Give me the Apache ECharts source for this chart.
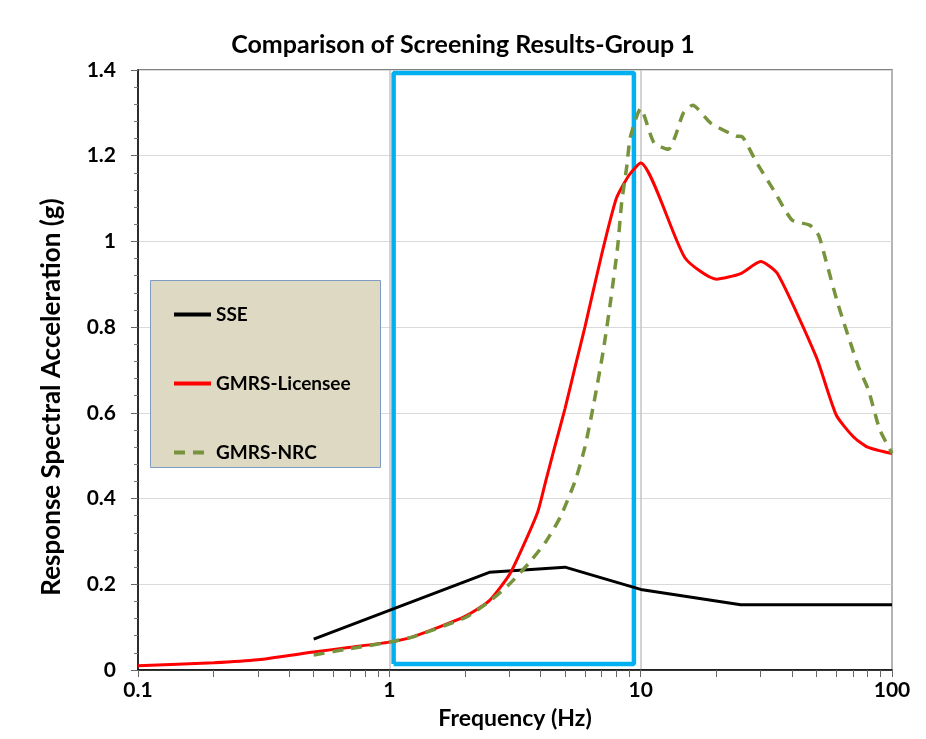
<!DOCTYPE html>
<html>
<head>
<meta charset="utf-8">
<script src="https://cdn.jsdelivr.net/npm/echarts@6/dist/echarts.min.js"></script>
<style>html,body{margin:0;padding:0;background:#fff;}#c{width:926px;height:739px;}</style>
</head>
<body>
<div id="c"></div>
<script>
// ---- data ----
var sseData = [[0.5,0.072],[2.5,0.228],[5,0.24],[10,0.188],[25,0.152],[100,0.152]];
var licenseeData = [[0.1,0.01],[0.2,0.017],[0.3,0.024],[0.5,0.042],[0.7,0.053],[1,0.065],[1.25,0.078],[2,0.125],[2.5,0.162],[3,0.222],[3.4,0.288],[3.9,0.37],[4.2,0.443],[4.5,0.51],[5,0.61],[5.5,0.71],[6,0.8],[7,0.97],[8,1.1],[9,1.155],[10,1.183],[15,0.962],[20,0.912],[25,0.925],[30,0.953],[35,0.925],[50,0.73],[60,0.595],[70,0.545],[80,0.52],[100,0.505]];
var nrcData = [[0.5,0.035],[0.7,0.05],[1,0.065],[1.25,0.078],[2,0.122],[2.5,0.16],[3,0.2],[3.6,0.25],[4.2,0.3],[4.8,0.358],[5.5,0.443],[6,0.52],[6.5,0.62],[7.1,0.745],[7.6,0.863],[8.1,0.988],[8.4,1.09],[8.8,1.174],[9.1,1.244],[10,1.31],[11.3,1.23],[12.9,1.215],[13.7,1.244],[14.8,1.3],[16.1,1.318],[19,1.276],[23.9,1.246],[25.4,1.244],[28.8,1.186],[33.8,1.12],[40,1.05],[47,1.038],[51,1.015],[54.5,0.957],[60.8,0.856],[73.5,0.708],[80.6,0.653],[89.5,0.56],[100,0.506]];
var boxData = [[1.04,0.014],[9.4,0.014],[9.4,1.393],[1.04,1.393],[1.04,0.014]];
var seriesNames = ['SSE','GMRS-Licensee','GMRS-NRC'];
var xMinorTickValues = [0.2,0.3,0.4,0.5,0.6,0.7,0.8,0.9,2,3,4,5,6,7,8,9,20,30,40,50,60,70,80,90];
var titleText = 'Comparison of Screening Results-Group 1';
var xName = 'Frequency (Hz)';
var yName = 'Response Spectral Acceleration (g)';

var FONT = 'Lato, "Open Sans", sans-serif';
var chart = echarts.init(document.getElementById('c'), null, {renderer:'canvas'});
chart.setOption({
  animation:false,
  backgroundColor:'#fff',
  title:{text:titleText,left:'center',top:27,textStyle:{fontFamily:FONT,fontSize:25,fontWeight:'bold',color:'#000'}},
  grid:{left:138,right:34,top:70,bottom:69,show:true,borderColor:'#595959',borderWidth:1.5,backgroundColor:'transparent'},
  graphic:[{type:'rect',left:150,top:280,shape:{width:230,height:187},style:{fill:'#DDD9C3',stroke:'#7F9CC5',lineWidth:1},z:50}],
  legend:{data:seriesNames,orient:'vertical',left:167,top:300,itemWidth:37,itemHeight:14,itemGap:50,z:60,
    itemStyle:{opacity:0},lineStyle:{width:4},
    textStyle:{fontFamily:FONT,fontSize:19,fontWeight:'bold',color:'#000'},selectedMode:false},
  xAxis:[{type:'log',logBase:10,min:0.1,max:100,
    name:xName,nameLocation:'middle',nameGap:37,
    nameTextStyle:{fontFamily:FONT,fontSize:23,fontWeight:'bold',color:'#000'},
    axisLine:{show:true,lineStyle:{color:'#000',width:1.5}},
    axisTick:{show:true,inside:false,length:7,lineStyle:{color:'#666',width:1}},
    axisLabel:{fontFamily:FONT,fontSize:21,fontWeight:'bold',color:'#000',margin:10,formatter:function(v){return String(v);}},
    splitLine:{show:true,lineStyle:{color:'#C4C4C4',width:1.5}}
  },{type:'log',logBase:10,min:0.1,max:100,position:'bottom',offset:0,
    axisLine:{show:false},axisLabel:{show:false},splitLine:{show:false},
    axisTick:{show:true,inside:false,length:7,lineStyle:{color:'#666',width:1},customValues:xMinorTickValues}
  }],
  yAxis:{type:'value',min:0,max:1.4,interval:0.2,
    name:yName,nameLocation:'middle',nameGap:73,
    nameTextStyle:{fontFamily:FONT,fontSize:26,fontWeight:'bold',color:'#000',padding:[0,54,0,0]},
    axisLine:{show:true,lineStyle:{color:'#000',width:1.5}},
    axisTick:{show:true,length:7,lineStyle:{color:'#666'}},
    minorTick:{show:true,splitNumber:5,length:4,lineStyle:{color:'#777'}},
    axisLabel:{fontFamily:FONT,fontSize:21,fontWeight:'bold',color:'#000',margin:22,formatter:function(v){return String(Math.round(v*10)/10);}},
    splitLine:{show:true,lineStyle:{color:'#DADADA',width:1}}
  },
  series:[
    {name:'box',type:'line',data:boxData,symbol:'none',lineStyle:{color:'#00B0F0',width:4.5},z:1,silent:true},
    {name:'SSE',type:'line',data:sseData,symbol:'none',lineStyle:{color:'#000',width:3},itemStyle:{color:'#000'},z:3},
    {name:'GMRS-Licensee',type:'line',data:licenseeData,symbol:'none',smooth:0.2,lineStyle:{color:'#FF0000',width:3},itemStyle:{color:'#FF0000'},z:4},
    {name:'GMRS-NRC',type:'line',data:nrcData,symbol:'none',smooth:0.2,lineStyle:{color:'#77933C',width:3.5,type:[11,8]},itemStyle:{color:'#77933C'},z:5}
  ]
});
</script>
</body>
</html>
